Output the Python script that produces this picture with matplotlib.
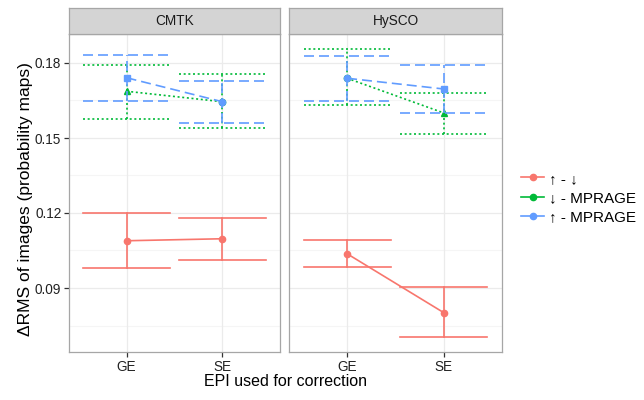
import matplotlib
matplotlib.use('Agg')
import matplotlib.pyplot as plt
from matplotlib.lines import Line2D

plt.rcParams['font.family'] = ['Liberation Sans', 'DejaVu Sans']

methods = ['CMTK', 'HySCO']
epi = ['GE', 'SE']
series = ['\u2191 - \u2193', '\u2193 - MPRAGE', '\u2191 - MPRAGE']
colors = ['#F8766D', '#00BA38', '#619CFF']

# mean, lower, upper per series -> [method][epi]
means = [
    [[0.1089, 0.1097], [0.1037, 0.0801]],
    [[0.1687, 0.1645], [0.1739, 0.1600]],
    [[0.1741, 0.1645], [0.1739, 0.1696]],
]
lower = [
    [[0.0980, 0.1013], [0.0983, 0.0703]],
    [[0.1577, 0.1539], [0.1632, 0.1515]],
    [[0.1649, 0.1561], [0.1648, 0.1601]],
]
upper = [
    [[0.1199, 0.1181], [0.1092, 0.0903]],
    [[0.1793, 0.1757], [0.1856, 0.1680]],
    [[0.1832, 0.1727], [0.1829, 0.1792]],
]
shapes = [
    [['o', 'o'], ['o', 'o']],
    [['^', 'o'], ['o', '^']],
    [['s', 'o'], ['o', 's']],
]

yticks = [0.09, 0.12, 0.15, 0.18]
minor_ticks = [0.075, 0.105, 0.135, 0.165]

styles = [dict(linestyle='-'),
          dict(linestyle=(0, (1.2, 1.6))),
          dict(linestyle=(0, (6, 3)))]

fig = plt.figure(figsize=(6.44, 4.0), dpi=100)

panel_x = [(69, 280), (289, 502)]
top, bottom = 34, 352
strip_top = 8
W, H = 644.0, 400.0

for m, name in enumerate(methods):
    x0, x1 = panel_x[m]
    ax = fig.add_axes([x0 / W, 1 - bottom / H, (x1 - x0) / W, (bottom - top) / H])
    ax.set_xlim(-0.6, 1.6)
    ax.set_ylim(0.0644, 0.1916)
    for v in minor_ticks:
        ax.axhline(v, color='#F5F5F5', lw=0.8, zorder=0)
    for v in yticks:
        ax.axhline(v, color='#EBEBEB', lw=0.9, zorder=0)
    for v in range(len(epi)):
        ax.axvline(v, color='#EBEBEB', lw=0.9, zorder=0)

    for s in range(len(series)):
        xs = list(range(len(epi)))
        ax.plot(xs, means[s][m], color=colors[s], lw=1.2, zorder=2 + s, **styles[s])
        for e in xs:
            ax.plot([e, e], [lower[s][m][e], upper[s][m][e]], color=colors[s], lw=1.2,
                    zorder=2 + s, **styles[s])
            for yv in (lower[s][m][e], upper[s][m][e]):
                ax.plot([e - 0.45, e + 0.45], [yv, yv], color=colors[s], lw=1.2,
                        zorder=2 + s, **styles[s])
            ax.plot(e, means[s][m][e], marker=shapes[s][m][e], color=colors[s],
                    markersize=4.5, linestyle='none', zorder=3 + s)

    ax.set_xticks(range(len(epi)))
    ax.set_xticklabels(epi, fontsize=9.8)
    ax.set_yticks(yticks)
    ax.tick_params(axis='both', colors='#333333', labelcolor='#222222', width=0.9, length=3.5, pad=2)
    if m == 0:
        ax.set_yticklabels(['%.2f' % v for v in yticks], fontsize=9.8)
    else:
        ax.set_yticklabels([])
        ax.tick_params(axis='y', length=0)
    for sp in ax.spines.values():
        sp.set_color('#A6A6A6')
        sp.set_linewidth(0.9)

    sax = fig.add_axes([x0 / W, 1 - top / H, (x1 - x0) / W, (top - strip_top) / H])
    sax.set_facecolor('#D4D4D4')
    sax.set_xticks([])
    sax.set_yticks([])
    for sp in sax.spines.values():
        sp.set_color('#A6A6A6')
        sp.set_linewidth(0.9)
    sax.text(0.5, 0.5, name, ha='center', va='center', fontsize=9.8, color='#1A1A1A',
             transform=sax.transAxes)

fig.text(26 / W, 1 - 199 / H, '\u0394RMS of images (probability maps)', rotation=90,
         ha='center', va='center', fontsize=12.5)
fig.text((69 + 502) / 2 / W, 1 - 382 / H, 'EPI used for correction', ha='center',
         va='center', fontsize=11.5)

handles = [Line2D([0], [0], color=c, lw=1.2, marker='o', markersize=4.5) for c in colors]
fig.legend(handles, series, loc='center left', bbox_to_anchor=(515 / W, 1 - 198 / H),
           frameon=False, fontsize=11, handlelength=1.5, handletextpad=0.3,
           labelspacing=0.35, borderaxespad=0)

fig.savefig('out.png', dpi=100)
